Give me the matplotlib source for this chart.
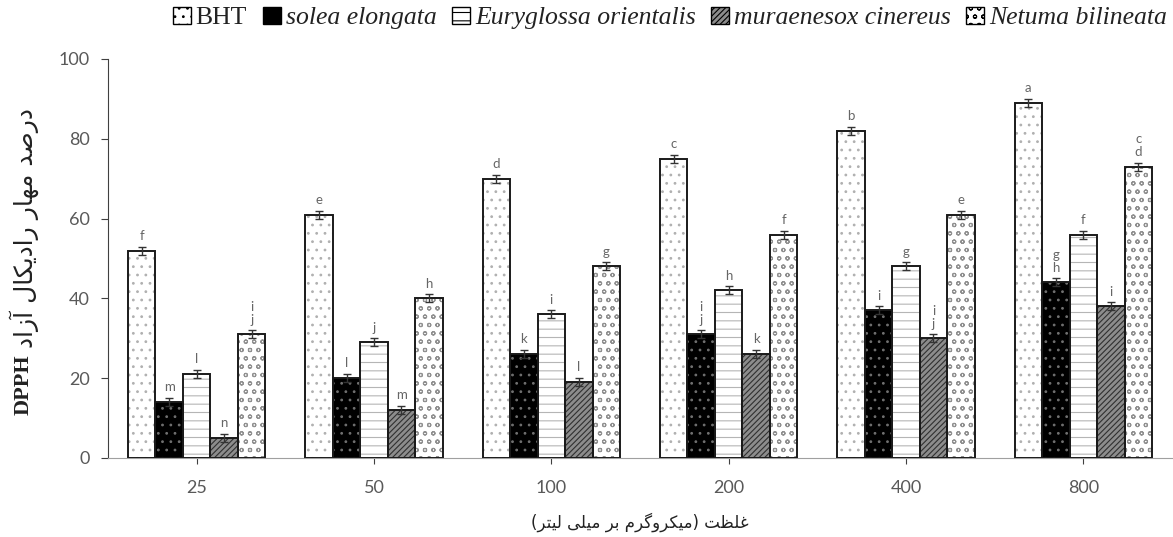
import numpy as np
import matplotlib as mpl
import matplotlib.pyplot as plt
from matplotlib.patches import Patch

mpl.rcParams['hatch.linewidth'] = 0.8

# data
concentrations = ['25', '50', '100', '200', '400', '800']
species = ['BHT', 'solea elongata', 'Euryglossa orientalis', 'muraenesox cinereus', 'Netuma bilineata']
bht = [52, 61, 70, 75, 82, 89]
solea = [14, 20, 26, 31, 37, 44]
eury = [21, 29, 36, 42, 48, 56]
muraen = [5, 12, 19, 26, 30, 38]
netuma = [31, 40, 48, 56, 61, 73]
errors = [1, 1, 1, 1, 1, 1]
letters_bht = ['f', 'e', 'd', 'c', 'b', 'a']
letters_solea = ['m', 'l', 'k', 'i\nj', 'i', 'g\nh']
letters_eury = ['l', 'j', 'i', 'h', 'g', 'f']
letters_muraen = ['n', 'm', 'l', 'k', 'i\nj', 'i']
letters_netuma = ['i\nj', 'h', 'g', 'f', 'e', 'c\nd']

xlabel_fa = 'غلظت (میکروگرم بر میلی لیتر)'
ylabel_fa = 'درصد مهار رادیکال آزاد'

# minimal persian shaping: (isolated, final, initial, medial)
FORMS = {
    '\u0627': ('\uFE8D', '\uFE8E'),
    '\u0622': ('\uFE81', '\uFE82'),
    '\u062F': ('\uFEA9', '\uFEAA'),
    '\u0631': ('\uFEAD', '\uFEAE'),
    '\u0632': ('\uFEAF', '\uFEB0'),
    '\u0648': ('\uFEED', '\uFEEE'),
    '\u0628': ('\uFE8F', '\uFE90', '\uFE91', '\uFE92'),
    '\u062A': ('\uFE95', '\uFE96', '\uFE97', '\uFE98'),
    '\u0635': ('\uFEB9', '\uFEBA', '\uFEBB', '\uFEBC'),
    '\u0638': ('\uFEC5', '\uFEC6', '\uFEC7', '\uFEC8'),
    '\u063A': ('\uFECD', '\uFECE', '\uFECF', '\uFED0'),
    '\u06A9': ('\uFB8E', '\uFB8F', '\uFB90', '\uFB91'),
    '\u06AF': ('\uFB92', '\uFB93', '\uFB94', '\uFB95'),
    '\u0644': ('\uFEDD', '\uFEDE', '\uFEDF', '\uFEE0'),
    '\u0645': ('\uFEE1', '\uFEE2', '\uFEE3', '\uFEE4'),
    '\u0647': ('\uFEE9', '\uFEEA', '\uFEEB', '\uFEEC'),
    '\u06CC': ('\uFBFC', '\uFBFD', '\uFBFE', '\uFBFF'),
}

def persian(text):
    text = text.replace('\u0627\u0653', '\u0622').replace('\u064A', '\u06CC').replace('\u0643', '\u06A9')
    out = []
    for i, c in enumerate(text):
        if c not in FORMS:
            out.append(c)
            continue
        f = FORMS[c]
        prev_joins = i > 0 and text[i - 1] in FORMS and len(FORMS[text[i - 1]]) == 4
        next_joins = len(f) == 4 and i + 1 < len(text) and text[i + 1] in FORMS
        if prev_joins and next_joins:
            out.append(f[3])
        elif prev_joins:
            out.append(f[1])
        elif next_joins:
            out.append(f[2])
        else:
            out.append(f[0])
    vis = ''.join(reversed(out))
    return vis.translate(str.maketrans('()', ')('))

series = [bht, solea, eury, muraen, netuma]
letters = [letters_bht, letters_solea, letters_eury, letters_muraen, letters_netuma]
faces = ['white', 'black', 'white', '#8c8c8c', 'white']
hatches = ['..', '..', '--', '//////', 'oo']
hcolors = ['#b0b0b0', '#707070', '#b5b5b5', '#303030', '#909090']

fig = plt.figure(figsize=(11.73, 5.37), dpi=100)
ax = fig.add_axes([108 / 1173, 79 / 537, 1064 / 1173, 399 / 537])

x = np.arange(len(concentrations))
w = 0.155
for k, vals in enumerate(series):
    pos = x + (k - 2) * w
    ax.bar(pos, vals, w, color=faces[k], edgecolor=hcolors[k], hatch=hatches[k], linewidth=0, zorder=2)
    ax.bar(pos, vals, w, fill=False, edgecolor='#1a1a1a', linewidth=1.4, zorder=3)
    ax.errorbar(pos, vals, yerr=errors, fmt='none', ecolor='#333333', elinewidth=1, capsize=3, capthick=1, zorder=4)
    for p, v, t in zip(pos, vals, letters[k]):
        ax.text(p, v + 2.2, t, ha='center', va='bottom', fontsize=9.5, color='#666666',
                family='Lato', linespacing=1.1)

ax.set_xlim(-0.5, 5.5)
ax.set_ylim(0, 100)
ax.set_yticks([0, 20, 40, 60, 80, 100])
ax.set_xticks(x)
ax.set_xticklabels(concentrations)
for s in ['top', 'right']:
    ax.spines[s].set_visible(False)
ax.spines['left'].set_color('#404040')
ax.spines['bottom'].set_color('#a0a0a0')
ax.tick_params(axis='y', direction='out', length=5, color='#404040', labelsize=13, labelcolor='#595959', pad=8)
ax.tick_params(axis='x', direction='out', length=4, color='#404040', labelsize=13, labelcolor='#595959', pad=12)
for lab in ax.get_xticklabels() + ax.get_yticklabels():
    lab.set_family('Lato')

fig.text(640 / 1173, 1 - 522 / 537, persian(xlabel_fa), ha='center', va='center', fontsize=12,
         family=['DejaVu Sans'], color='#222222')
fig.text(24 / 1173, 1 - 354 / 537, 'DPPH', rotation=90, ha='center', va='top',
         fontsize=16, fontweight='bold', family='Liberation Serif', color='#222222')
fig.text(24 / 1173, 1 - 348 / 537, persian(ylabel_fa), rotation=90, ha='center', va='bottom',
         fontsize=18, family='DejaVu Sans', color='#222222')

handles = [Patch(facecolor=faces[k], edgecolor='black', hatch=hatches[k], linewidth=1) for k in range(5)]
leg = fig.legend(handles, species, loc='center', bbox_to_anchor=(670 / 1173, 1 - 18 / 537), ncol=5,
                 frameon=False, handlelength=0.7, handleheight=0.7, handletextpad=0.2, columnspacing=0.6,
                 prop={'family': 'Liberation Serif', 'size': 18.5})
for i, txt in enumerate(leg.get_texts()):
    if i > 0:
        txt.set_fontstyle('italic')
    txt.set_color('#222222')

fig.savefig('out.png', dpi=100)
